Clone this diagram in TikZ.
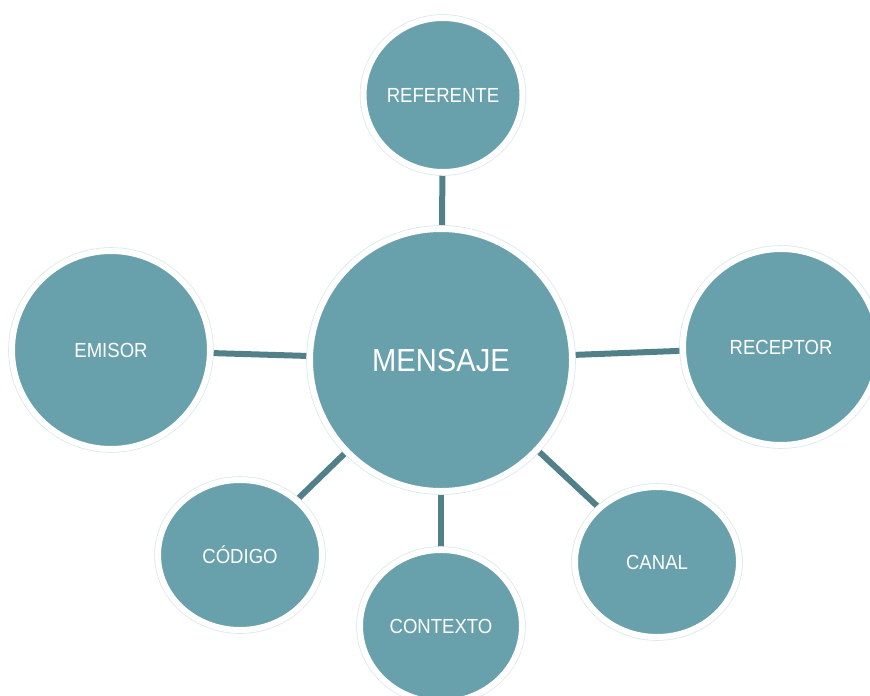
\documentclass[tikz,border=0pt]{standalone}
\usepackage{fontspec}
\setmainfont[FakeStretch=0.91]{Liberation Sans}
\usepackage{tikz}
\definecolor{myteal}{RGB}{104,161,171}
\definecolor{mylink}{RGB}{82,128,137}
\definecolor{myring}{RGB}{218,233,236}
\usetikzlibrary{shapes.geometric}
\usetikzlibrary{backgrounds}

\begin{document}
\begin{tikzpicture}[x=0.5pt,y=-0.5pt,
  bubble/.style={ellipse,fill=myteal,draw=white,line width=3pt,
    preaction={draw=myring,line width=3.8pt},
    text=white,inner sep=0pt,font=\fontsize{10.2}{12}\selectfont},
  bigbubble/.style={bubble,font=\fontsize{16}{19}\selectfont},
  link/.style={draw=mylink,line width=3pt}]

\clip (0,0) rectangle (870,695);

\node[bigbubble,minimum width=131pt,minimum height=131pt] (mensaje) at (441,360) {MENSAJE};

\node[bubble,minimum width=79pt,minimum height=77pt] (referente) at (443,95) {REFERENTE};
\node[bubble,minimum width=99pt,minimum height=99pt] (emisor) at (111,350) {EMISOR};
\node[bubble,minimum width=98pt,minimum height=98pt] (receptor) at (781,347) {RECEPTOR};
\node[bubble,minimum width=82pt,minimum height=75pt] (codigo) at (240,555) {CÓDIGO};
\node[bubble,minimum width=81pt,minimum height=76pt] (contexto) at (441,626) {CONTEXTO};
\node[bubble,minimum width=82pt,minimum height=75pt] (canal) at (657,562) {CANAL};

\begin{pgfonlayer}{background}
\draw[link] (mensaje) -- (referente);
\draw[link] (mensaje) -- (emisor);
\draw[link] (mensaje) -- (receptor);
\draw[link] (mensaje) -- (codigo);
\draw[link] (mensaje) -- (contexto);
\draw[link] (mensaje) -- (canal);
\end{pgfonlayer}
\end{tikzpicture}
\end{document}
